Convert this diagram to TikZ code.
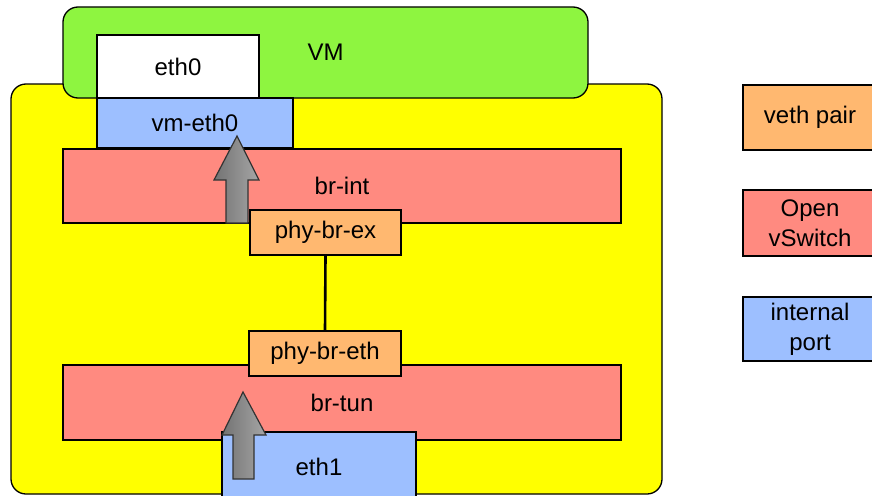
\documentclass[tikz,border=0pt]{standalone}
\usepackage{fontspec}
\setmainfont{Liberation Sans}
\definecolor{vmgreen}{HTML}{8EF540}
\definecolor{hostyellow}{HTML}{FFFF00}
\definecolor{portblue}{HTML}{9DBFFF}
\definecolor{ovsred}{HTML}{FF8A80}
\definecolor{vethorange}{HTML}{FFB870}
\tikzset{
  box/.style={draw=black, line width=1.3pt, inner sep=0pt, align=center,
              font=\fontsize{24}{30}\selectfont},
  roundbox/.style={box, rounded corners=15pt},
  flowarrow/.style={draw=black!80, line width=1.2pt, left color=black!55, right color=black!35},
  link/.style={line width=2.6pt}
}
\begin{document}
\begin{tikzpicture}[x=1pt, y=-1pt]
\useasboundingbox (0,0) rectangle (872,495);

% host and VM containers
\node[roundbox, fill=hostyellow, minimum width=651pt, minimum height=410pt] (host) at (336.5,289) {};
\node[roundbox, fill=vmgreen, minimum width=525pt, minimum height=91pt] (vm) at (325.5,52.5) {VM};

% VM side interfaces
\node[box, fill=white, minimum width=162pt, minimum height=63pt] (eth0) at (178,66.5) {eth0};
\node[box, fill=portblue, minimum width=196pt, minimum height=50pt] (vmeth0) at (195,123) {vm-eth0};

% integration bridge
\node[box, fill=ovsred, minimum width=558pt, minimum height=74pt] (brint) at (342,186) {br-int};
\draw[flowarrow] (226,223) -- (226,180) -- (214,180) -- (237,136) -- (259,180) -- (248,180) -- (248,223) -- cycle;
\node[box, fill=vethorange, minimum width=151pt, minimum height=45pt] (phybrex) at (325.5,232.5) {phy-br-ex};

% tunnel bridge
\node[box, fill=ovsred, minimum width=558pt, minimum height=75pt] (brtun) at (342,402.5) {br-tun};
\node[box, fill=vethorange, minimum width=152pt, minimum height=45pt] (phybreth) at (325,353.5) {phy-br-eth};
\draw[link] (phybrex.south) -- (phybreth.north);

% physical interface
\node[box, fill=portblue, minimum width=194pt, minimum height=70pt] (eth1) at (319,467) {eth1};
\draw[flowarrow] (233,479) -- (233,435) -- (222,435) -- (243,392) -- (266,435) -- (254,435) -- (254,479) -- cycle;

% legend
\node[box, fill=vethorange, minimum width=134pt, minimum height=65pt] (legveth) at (810,117.5) {veth pair};
\node[box, fill=ovsred, minimum width=134pt, minimum height=66pt] (legovs) at (810,223) {Open\\vSwitch};
\node[box, fill=portblue, minimum width=134pt, minimum height=64pt] (legport) at (810,329) {internal\\port};
\end{tikzpicture}
\end{document}
